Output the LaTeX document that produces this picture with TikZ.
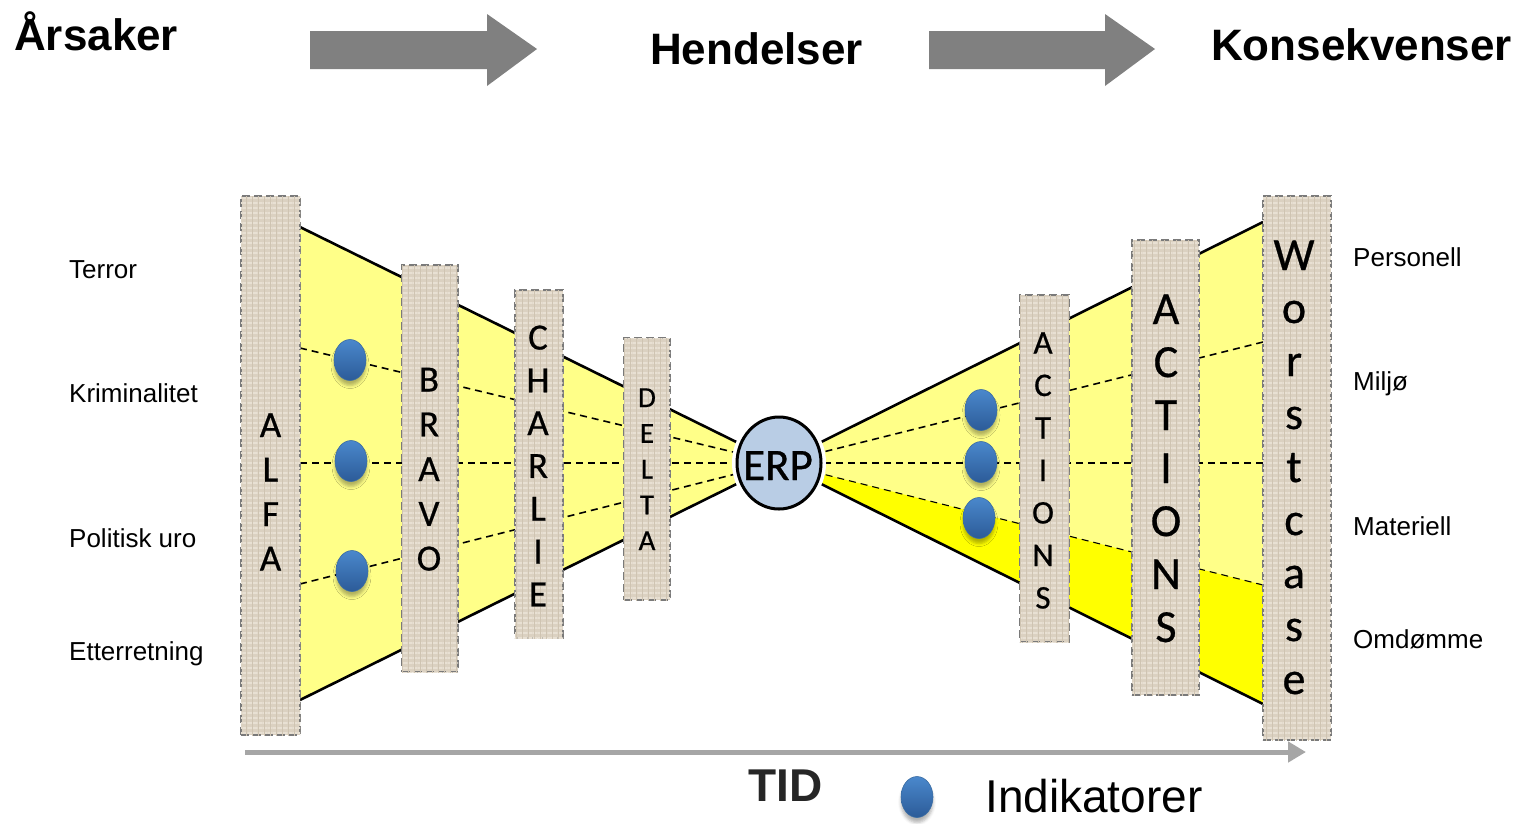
\documentclass[tikz,border=0pt]{standalone}
\usepackage{fontspec}
\setmainfont{Liberation Sans}
\newfontfamily\calfont[FakeBold=0.6]{Carlito}
\usetikzlibrary{arrows.meta,shapes.geometric,shadows.blur,patterns.meta}
\definecolor{boxfill}{HTML}{DBD1C1}
\definecolor{boxline}{HTML}{7A7A7A}
\definecolor{texlight}{HTML}{E8E0D3}
\definecolor{texdark}{HTML}{CFC4B2}
\definecolor{lightyel}{HTML}{FFFF88}
\definecolor{brightyel}{HTML}{FFFF00}
\definecolor{erpfill}{HTML}{B9CDE5}
\definecolor{dottop}{HTML}{4A88CC}
\definecolor{dotbot}{HTML}{2C5B98}
\definecolor{bigarrow}{HTML}{808080}
\definecolor{tidgray}{HTML}{A6A6A6}
\begin{document}
\begin{tikzpicture}[x=1pt,y=-1pt,
  colbox/.style={rectangle, draw=boxline, line width=2.4pt, dash pattern=on 8pt off 4pt, fill=boxfill,
    postaction={pattern={Lines[angle=0,distance=5pt,line width=1.2pt]}, pattern color=texlight},
    postaction={pattern={Lines[angle=90,distance=6pt,line width=0.8pt]}, pattern color=texdark},
    inner sep=0pt},
  letter/.style={anchor=base, inner sep=0pt},
  edge/.style={draw=black, line width=2.6pt},
  dline/.style={draw=black, line width=1.6pt, dash pattern=on 7pt off 5pt},
  dball/.style={ellipse, minimum width=32pt, minimum height=41pt, inner sep=0pt,
    top color=dottop, bottom color=dotbot, draw=dottop!80!black, line width=0.6pt,
    blur shadow={shadow xshift=0pt, shadow yshift=-5pt, shadow blur radius=3pt, shadow opacity=30}},
  lab/.style={anchor=base west, inner sep=0pt, font=\fontsize{26}{26}\selectfont},
  head/.style={anchor=base west, inner sep=0pt, font=\bfseries\fontsize{44}{44}\selectfont},
]
\useasboundingbox (0,0) rectangle (1522,823);

% headings
\node[head] (h1) at (14,50) {Årsaker};
\node[head] (h2) at (650,64) {Hendelser};
\node[head] (h3) at (1211,60) {Konsekvenser};
\fill[bigarrow] (310,31) -- (487,31) -- (487,14) -- (537,49) -- (487,86) -- (487,69) -- (310,69) -- cycle;
\fill[bigarrow] (929,31) -- (1105,31) -- (1105,14) -- (1155,49) -- (1105,86) -- (1105,69) -- (929,69) -- cycle;

% key points
\coordinate (c) at (779,463);
\coordinate (lt) at (300,227);
\coordinate (lb) at (300,700);
\coordinate (rt) at (1263,222);
\coordinate (rb) at (1263,704);
\coordinate (ld1) at (300,348);
\coordinate (ld2) at (300,463);
\coordinate (ld3) at (300,584);
\coordinate (rd1) at (1263,342);
\coordinate (rd2) at (1263,463);
\coordinate (rd3) at (1263,585);

% funnels
\fill[lightyel] (lt) -- (c) -- (lb) -- cycle;
\fill[lightyel] (rt) -- (c) -- (rb) -- cycle;
\fill[brightyel] (rd3) -- (c) -- (rb) -- cycle;
\draw[edge] (lt) -- (c);
\draw[edge] (lb) -- (c);
\draw[edge] (rt) -- (c);
\draw[edge] (rb) -- (c);
\draw[dline] (ld1) -- (c);
\draw[dline] (ld2) -- (c);
\draw[dline] (ld3) -- (c);
\draw[dline] (rd1) -- (c);
\draw[dline] (rd2) -- (c);
\draw[dline, line width=1.1pt] (rd3) -- (c);

% indicator dots
\node[dball] (d1) at (350,360) {};
\node[dball] (d2) at (351,461) {};
\node[dball] (d3) at (352,571) {};
\node[dball] (d4) at (981,410) {};
\node[dball] (d5) at (981,462) {};
\node[dball] (d6) at (979,518) {};

% ERP
\node[ellipse, draw=black, line width=3pt, fill=erpfill, minimum width=84pt, minimum height=92pt,
  inner sep=0pt, preaction={draw=white, line width=10pt}] (erp) at (c) {};
\node[letter, font=\calfont\fontsize{45}{45}\selectfont] (erptext) at (778,480) {ERP};

% columns
\node[colbox, minimum width=59pt, minimum height=539pt] (alfa) at (270.5,465.5) {};
\node[colbox, minimum width=56pt, minimum height=407pt] (bravo) at (430,468.5) {};
\node[colbox, minimum width=48pt, minimum height=348pt] (charlie) at (539,464) {};
\node[colbox, minimum width=46pt, minimum height=262pt] (delta) at (647,469) {};
\node[colbox, minimum width=49pt, minimum height=347pt] (act1) at (1044.5,468.5) {};
\node[colbox, minimum width=67pt, minimum height=455pt] (act2) at (1165.5,467.5) {};
\node[colbox, minimum width=68pt, minimum height=544pt] (worst) at (1297,468) {};

\foreach \c [count=\i from 0] in {A,L,F,A}
  \node[letter, font=\calfont\fontsize{37}{37}\selectfont] (alfa-\i) at (270.5,437+44.5*\i) {\c};
\foreach \c [count=\i from 0] in {B,R,A,V,O}
  \node[letter, font=\calfont\fontsize{37}{37}\selectfont] (bravo-\i) at (429,391.5+44.75*\i) {\c};
\foreach \c [count=\i from 0] in {C,H,A,R,L,I,E}
  \node[letter, font=\calfont\fontsize{37}{37}\selectfont] (charlie-\i) at (538,349.5+42.8*\i) {\c};
\foreach \c [count=\i from 0] in {D,E,L,T,A}
  \node[letter, font=\calfont\fontsize{29}{29}\selectfont] (delta-\i) at (647,407+35.75*\i) {\c};
\foreach \c [count=\i from 0] in {A,C,T,I,O,N,S}
  \node[letter, font=\calfont\fontsize{33}{33}\selectfont] (actone-\i) at (1043,353.5+42.5*\i) {\c};
\foreach \c [count=\i from 0] in {A,C,T,I,O,N,S}
  \node[letter, font=\calfont\fontsize{46}{46}\selectfont] (acttwo-\i) at (1166,324+53*\i) {\c};
\foreach \c [count=\i from 0] in {W,o,r,s,t,c,a,s,e}
  \node[letter, font=\calfont\fontsize{46}{46}\selectfont] (worst-\i) at (1294,270+53*\i) {\c};

% side labels
\node[lab] (l1) at (69,278) {Terror};
\node[lab] (l2) at (69,402) {Kriminalitet};
\node[lab] (l3) at (69,547) {Politisk uro};
\node[lab] (l4) at (69,660) {Etterretning};
\node[lab] (r1) at (1353,266) {Personell};
\node[lab] (r2) at (1353,390) {Miljø};
\node[lab] (r3) at (1353,535) {Materiell};
\node[lab] (r4) at (1353,648) {Omdømme};

% time arrow and legend
\coordinate (tidA) at (245,752);
\coordinate (tidB) at (1306,752);
\draw[tidgray, line width=5pt, -{Triangle[length=18pt,width=20pt]}] (tidA) -- (tidB);
\node[anchor=base west, inner sep=0pt, font=\bfseries\fontsize{46}{46}\selectfont, text=black!85] (tid) at (748,801) {TID};
\node[dball] (legdot) at (917,797) {};
\node[anchor=base west, inner sep=0pt, font=\fontsize{46}{46}\selectfont] (ind) at (985,812) {Indikatorer};
\end{tikzpicture}
\end{document}
